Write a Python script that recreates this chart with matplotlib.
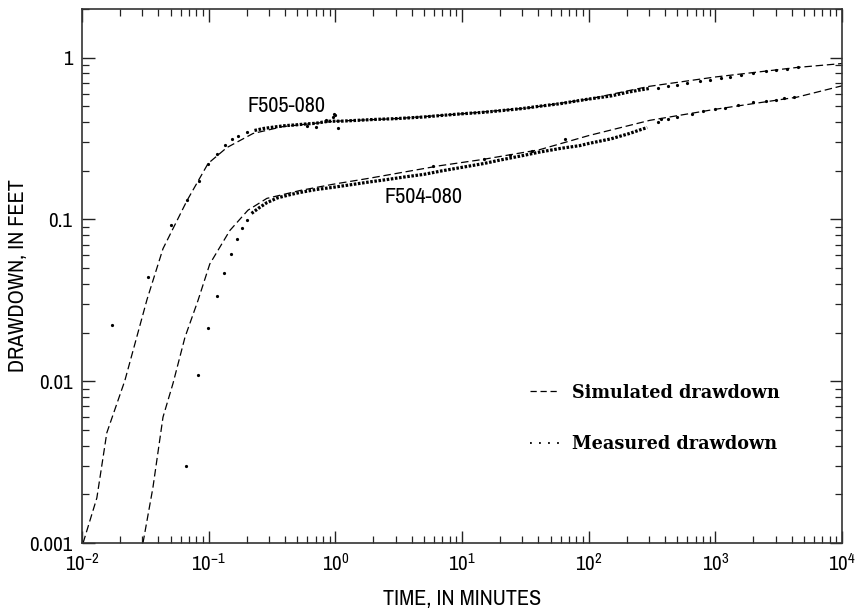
import matplotlib
matplotlib.use("Agg")
import matplotlib.pyplot as plt
from matplotlib import font_manager
from matplotlib.lines import Line2D
from matplotlib.ticker import LogLocator, FixedLocator, FixedFormatter, NullFormatter

# ---------------- data ----------------
# Simulated drawdown (dashed)
sim505_t = [0.0102, 0.0131, 0.0157, 0.0218, 0.0326, 0.0436, 0.0675, 0.099, 0.139, 0.224,
            0.385, 1.0, 3.0, 10, 34, 100, 300, 1000, 4400, 10000]
sim505_s = [0.001, 0.0019, 0.0048, 0.0101, 0.032, 0.066, 0.131, 0.222, 0.278, 0.34,
            0.375, 0.405, 0.42, 0.45, 0.49, 0.555, 0.665, 0.76, 0.87, 0.92]

sim504_t = [0.0303, 0.0363, 0.0436, 0.0523, 0.065, 0.0824, 0.102, 0.147, 0.204, 0.288,
            0.526, 0.957, 1.87, 6.7, 14.6, 41, 100, 304, 1000, 4400, 10000]
sim504_s = [0.001, 0.0022, 0.006, 0.0097, 0.0187, 0.0316, 0.053, 0.0855, 0.114, 0.135,
            0.151, 0.165, 0.18, 0.215, 0.235, 0.27, 0.33, 0.41, 0.48, 0.57, 0.67]

# Measured drawdown, well F505-080
meas505_early_t = [0.0173, 0.0332, 0.0503, 0.0675, 0.0838, 0.099, 0.116, 0.135, 0.153, 0.17, 0.2]
meas505_early_s = [0.0222, 0.0438, 0.092, 0.131, 0.174, 0.219, 0.255, 0.29, 0.316, 0.33, 0.345]
meas505_dense_t = [0.23, 0.27, 0.33, 0.4, 0.5, 0.6, 0.7, 0.8, 0.9, 1.1, 1.5, 2, 3, 5, 7, 10,
                   15, 20, 30, 40, 60, 80, 100, 150, 200, 250, 300]
meas505_dense_s = [0.355, 0.365, 0.373, 0.38, 0.385, 0.39, 0.393, 0.40, 0.405, 0.405, 0.41, 0.415,
                   0.42, 0.43, 0.44, 0.45, 0.46, 0.47, 0.485, 0.50, 0.52, 0.54, 0.555, 0.58,
                   0.61, 0.63, 0.645]
meas505_odd_t = [0.6, 0.71, 0.85, 0.95, 0.98, 1.0, 1.05]
meas505_odd_s = [0.38, 0.375, 0.41, 0.43, 0.45, 0.44, 0.37]
meas505_late_t = [350, 420, 500, 600, 750, 900, 1100, 1300, 1600, 2000, 2500, 3000, 3700, 4500]
meas505_late_s = [0.65, 0.665, 0.68, 0.695, 0.715, 0.73, 0.75, 0.765, 0.785, 0.805, 0.825,
                  0.84, 0.855, 0.87]

# Measured drawdown, well F504-080
meas504_early_t = [0.0662, 0.0824, 0.099, 0.116, 0.132, 0.15, 0.167, 0.183, 0.2]
meas504_early_s = [0.003, 0.011, 0.0212, 0.0335, 0.0464, 0.0608, 0.0753, 0.088, 0.0986]
meas504_dense_t = [0.218, 0.25, 0.288, 0.35, 0.45, 0.53, 0.7, 0.96, 1.4, 1.9, 2.5, 3.5, 5, 7,
                   10, 15, 20, 30, 40, 60, 85, 100, 150, 210, 260, 290]
meas504_dense_s = [0.109, 0.118, 0.127, 0.136, 0.143, 0.147, 0.153, 0.158, 0.165, 0.171, 0.176,
                   0.183, 0.19, 0.2, 0.21, 0.222, 0.233, 0.248, 0.26, 0.275, 0.286, 0.295,
                   0.315, 0.34, 0.36, 0.37]
meas504_odd_t = [5.9, 15, 24, 36, 65]
meas504_odd_s = [0.215, 0.238, 0.25, 0.265, 0.316]
meas504_late_t = [350, 375, 420, 500, 650, 800, 1000, 1200, 1500, 2000, 2500, 3000, 3500, 4200]
meas504_late_s = [0.40, 0.42, 0.415, 0.43, 0.45, 0.465, 0.48, 0.49, 0.51, 0.53, 0.54, 0.55,
                  0.56, 0.575]

well_labels = ["F505-080", "F504-080"]
well_label_pos = [(0.204, 0.506), (2.46, 0.137)]
legend_labels = ["Simulated drawdown", "Measured drawdown"]
x_ticks = [1e-2, 1e-1, 1e0, 1e1, 1e2, 1e3, 1e4]
x_ticklabels = [r"$10^{-2}$", r"$10^{-1}$", r"$10^{0}$", r"$10^{1}$", r"$10^{2}$",
                r"$10^{3}$", r"$10^{4}$"]
y_ticks = [0.001, 0.01, 0.1, 1]
y_ticklabels = ["0.001", "0.01", "0.1", "1"]
x_label = "TIME, IN MINUTES"
y_label = "DRAWDOWN, IN FEET"

# ---------------- fonts: look for a condensed sans ----------------
cond = None
for f in font_manager.fontManager.ttflist:
    nm = f.name
    if ("Narrow" in nm or "Condensed" in nm) and f.weight in (400, "normal", "regular") \
            and f.style == "normal":
        cond = f
        break
if cond is None:
    for f in font_manager.fontManager.ttflist:
        st = f.stretch
        if f.name == "DejaVu Sans" and st not in ("normal", 500) and f.style == "normal" \
                and f.weight in (400, "normal"):
            cond = f
            break

if cond is not None:
    SANS_PROPS = dict(family=[cond.name, "DejaVu Sans"], stretch=cond.stretch)
    scale = 1.0
else:
    SANS_PROPS = dict(family=["Roboto", "DejaVu Sans"])
    scale = 0.86

plt.rcParams["font.family"] = SANS_PROPS["family"]
if "stretch" in SANS_PROPS:
    plt.rcParams["font.stretch"] = SANS_PROPS["stretch"]
plt.rcParams["mathtext.fontset"] = "custom"
plt.rcParams["mathtext.rm"] = SANS_PROPS["family"][0]
plt.rcParams["mathtext.it"] = SANS_PROPS["family"][0]
plt.rcParams["mathtext.bf"] = SANS_PROPS["family"][0]

fig = plt.figure(figsize=(8.61, 6.11), dpi=100)
ax = fig.add_axes([82 / 861, 1 - 543 / 611, 760 / 861, 534 / 611])
ax.set_xscale("log")
ax.set_yscale("log")
ax.set_xlim(1e-2, 1e4)
ax.set_ylim(1e-3, 2.0)

dash = (0, (6, 3))
ax.plot(sim505_t, sim505_s, color="black", lw=0.9, ls=dash)
ax.plot(sim504_t, sim504_s, color="black", lw=0.9, ls=dash)

dense_style = dict(color="black", lw=2.3, ls=(0, (0.8, 0.5)))
pt_style = dict(color="black", ls="none", marker="o", ms=2.3, mew=0)
for tt, ss in [(meas505_dense_t, meas505_dense_s), (meas504_dense_t, meas504_dense_s)]:
    ax.plot(tt, ss, **dense_style)
for tt, ss in [(meas505_early_t, meas505_early_s), (meas505_odd_t, meas505_odd_s),
               (meas505_late_t, meas505_late_s), (meas504_early_t, meas504_early_s),
               (meas504_odd_t, meas504_odd_s), (meas504_late_t, meas504_late_s)]:
    ax.plot(tt, ss, **pt_style)

for lab, (tx, ty) in zip(well_labels, well_label_pos):
    ax.text(tx, ty, lab, ha="left", va="center", fontsize=16 * scale)

# ticks
ax.xaxis.set_major_locator(FixedLocator(x_ticks))
ax.xaxis.set_major_formatter(FixedFormatter(x_ticklabels))
ax.xaxis.set_minor_locator(LogLocator(base=10, subs=range(2, 10), numticks=20))
ax.xaxis.set_minor_formatter(NullFormatter())
ax.yaxis.set_major_locator(FixedLocator(y_ticks))
ax.yaxis.set_major_formatter(FixedFormatter(y_ticklabels))
ax.yaxis.set_minor_locator(LogLocator(base=10, subs=range(2, 10), numticks=20))
ax.yaxis.set_minor_formatter(NullFormatter())
ax.tick_params(which="both", direction="in", top=True, right=True, colors="#222222",
               labelcolor="black", labelsize=15 * scale, pad=7)
ax.tick_params(which="major", length=9, width=1.0)
ax.tick_params(which="minor", length=5, width=0.9)
for sp in ax.spines.values():
    sp.set_linewidth(1.2)
    sp.set_color("#333333")

ax.set_xlabel(x_label, fontsize=16 * scale)
ax.set_ylabel(y_label, fontsize=16 * scale)
ax.xaxis.set_label_coords(0.5, -0.086)
ax.yaxis.set_label_coords(-0.071, 0.5)

handles = [Line2D([], [], color="black", lw=0.9, ls=(0, (5, 3))),
           Line2D([], [], color="black", lw=1.3, ls=(0, (1, 4)))]
leg = ax.legend(handles, legend_labels, loc="upper left", bbox_to_anchor=(0.578, 0.315),
                frameon=False, handlelength=1.65, handletextpad=0.75, labelspacing=1.9,
                borderpad=0, prop={"family": "DejaVu Serif", "weight": "bold", "size": 12.7,
                                   "stretch": "normal"})

fig.savefig("out.png", dpi=100)
